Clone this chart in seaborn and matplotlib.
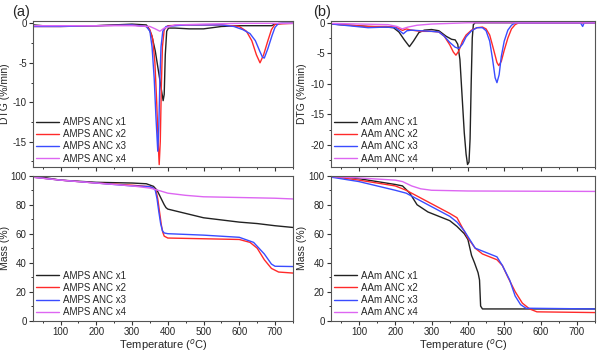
import pandas as pd
import matplotlib
matplotlib.use("Agg")
import matplotlib.pyplot as plt
from matplotlib.ticker import MultipleLocator
import seaborn as sns

# ---- (a) AMPS ANC, DTG (%/min) ----
a_dtg_t1 = [25, 50, 100, 150, 200, 250, 300, 340, 345, 355, 365, 372, 380, 387, 390, 393, 397, 402, 420, 460, 500, 550, 600, 650, 690, 700, 720, 750]
a_dtg_v1 = [-0.2, -0.3, -0.3, -0.3, -0.3, -0.2, -0.1, -0.2, -0.5, -1.5, -3.5, -5.5, -7.8, -9.8, -9.0, -4.0, -1.0, -0.6, -0.6, -0.7, -0.7, -0.4, -0.3, -0.3, -0.3, -0.1, 0.0, 0.0]
a_dtg_t2 = [25, 100, 200, 300, 340, 350, 358, 364, 369, 373, 376, 379, 382, 385, 390, 400, 450, 550, 600, 620, 635, 648, 658, 668, 680, 690, 700, 750]
a_dtg_v2 = [-0.4, -0.4, -0.3, -0.2, -0.4, -0.8, -2.0, -5.0, -10.0, -15.0, -17.9, -15.0, -8.0, -3.0, -0.8, -0.3, -0.2, -0.2, -0.4, -1.0, -2.2, -4.0, -5.0, -4.0, -2.2, -0.8, -0.1, 0.0]
a_dtg_t3 = [25, 100, 200, 300, 340, 350, 356, 362, 367, 372, 375, 378, 381, 386, 395, 450, 550, 585, 610, 630, 645, 657, 665, 670, 680, 692, 700, 710, 750]
a_dtg_v3 = [-0.4, -0.4, -0.3, -0.2, -0.4, -1.0, -3.0, -7.0, -12.0, -16.2, -13.0, -7.0, -3.0, -1.0, -0.4, -0.2, -0.2, -0.4, -0.8, -1.3, -2.2, -3.5, -4.3, -4.4, -3.2, -1.5, -0.5, 0.0, 0.0]
a_dtg_t4 = [25, 100, 200, 300, 350, 365, 378, 390, 420, 500, 600, 750]
a_dtg_v4 = [-0.3, -0.3, -0.3, -0.3, -0.4, -0.7, -1.0, -0.6, -0.2, -0.1, 0.0, 0.0]

# ---- (b) AAm ANC, DTG (%/min) ----
b_dtg_t1 = [25, 75, 125, 175, 195, 210, 225, 239, 250, 265, 280, 300, 320, 340, 355, 365, 372, 378, 384, 390, 395, 399, 403, 406, 409, 412, 415, 420, 500, 750]
b_dtg_v1 = [-0.2, -0.4, -0.6, -0.7, -0.8, -1.5, -2.8, -3.9, -3.0, -1.6, -1.2, -1.1, -1.3, -2.2, -2.7, -2.8, -3.5, -6.0, -12.0, -18.0, -21.5, -23.2, -22.8, -19.0, -10.0, -2.5, -0.3, 0.0, 0.0, 0.0]
b_dtg_t2 = [25, 75, 125, 175, 200, 212, 220, 230, 245, 270, 300, 320, 335, 350, 360, 367, 375, 385, 395, 410, 425, 440, 450, 460, 470, 480, 485, 492, 500, 510, 520, 530, 540, 750]
b_dtg_v2 = [-0.2, -0.4, -0.6, -0.6, -0.7, -1.0, -1.25, -1.0, -1.2, -1.4, -1.4, -1.5, -2.2, -3.6, -4.8, -5.3, -4.6, -3.0, -2.0, -1.2, -0.8, -0.7, -1.0, -2.0, -4.2, -6.5, -7.0, -6.3, -4.5, -2.5, -1.0, -0.3, 0.0, 0.0]
b_dtg_t3 = [25, 75, 125, 175, 200, 212, 222, 232, 245, 270, 300, 320, 335, 350, 365, 375, 385, 395, 410, 425, 440, 450, 460, 468, 475, 480, 486, 492, 500, 510, 520, 530, 710, 716, 720, 750]
b_dtg_v3 = [-0.2, -0.5, -0.8, -0.7, -0.8, -1.3, -1.8, -1.3, -1.2, -1.3, -1.4, -1.5, -2.2, -3.2, -4.0, -4.2, -3.5, -2.3, -1.3, -0.8, -0.8, -1.3, -3.0, -6.0, -9.0, -9.8, -8.5, -5.5, -3.0, -1.2, -0.4, 0.0, 0.0, -0.6, 0.0, 0.0]
b_dtg_t4 = [25, 100, 180, 205, 219, 235, 260, 300, 350, 400, 750]
b_dtg_v4 = [-0.1, -0.2, -0.3, -0.6, -1.0, -0.7, -0.4, -0.2, -0.1, 0.0, 0.0]

# ---- (a) AMPS ANC, Mass (%) ----
a_m_t1 = [25, 100, 200, 300, 340, 360, 370, 380, 390, 395, 400, 450, 500, 550, 600, 650, 700, 750]
a_m_v1 = [100, 97, 95.5, 95, 94.5, 92.7, 90, 85, 80, 78, 77, 74, 71, 69.5, 68, 67, 65.5, 64.3]
a_m_t2 = [25, 100, 200, 300, 350, 360, 367, 372, 377, 382, 386, 390, 400, 500, 600, 630, 650, 670, 690, 710, 750]
a_m_v2 = [99, 97, 95, 93.5, 92.5, 91.5, 90, 84, 75, 66, 61, 58.3, 57, 56.5, 56, 54, 50, 42, 36, 33.5, 32.8]
a_m_t3 = [25, 100, 200, 300, 350, 360, 365, 370, 375, 380, 385, 390, 400, 500, 600, 640, 655, 670, 690, 700, 750]
a_m_v3 = [99, 97, 95, 93, 92.5, 91.5, 90, 84, 75, 67, 62, 60.5, 60, 59, 57.5, 54, 50, 46, 39, 37.5, 37.3]
a_m_t4 = [25, 100, 200, 300, 350, 380, 400, 450, 500, 600, 700, 750]
a_m_v4 = [99, 97, 95, 93, 91.5, 89.5, 88, 86.5, 85.5, 85, 84.5, 84]

# ---- (b) AAm ANC, Mass (%) ----
b_m_t1 = [25, 100, 150, 200, 220, 240, 260, 290, 320, 350, 370, 390, 400, 410, 418, 428, 432, 435, 440, 500, 750]
b_m_v1 = [100, 98, 96, 94, 93, 88, 80, 75, 72, 69, 65, 60, 56, 45, 40, 33, 28, 10, 8, 8, 8]
b_m_t2 = [25, 100, 200, 230, 260, 290, 320, 350, 370, 385, 400, 420, 440, 460, 480, 495, 510, 530, 550, 570, 590, 750]
b_m_v2 = [99.5, 97, 93, 90, 86, 82, 78, 74, 71, 64, 57, 50, 46, 44, 42, 38, 30, 20, 12, 8, 6, 5.5]
b_m_t3 = [25, 100, 200, 230, 260, 290, 320, 350, 370, 390, 405, 420, 440, 460, 480, 495, 515, 530, 545, 560, 750]
b_m_v3 = [99, 96, 90, 88, 84, 80, 76, 72, 68, 62, 56, 50, 48, 46, 44, 38, 28, 17, 11, 8.5, 8]
b_m_t4 = [25, 100, 200, 220, 245, 270, 300, 400, 750]
b_m_v4 = [99.5, 98.5, 97, 96, 93, 91, 90, 89.5, 89.2]

labels_a = ["AMPS ANC x1", "AMPS ANC x2", "AMPS ANC x3", "AMPS ANC x4"]
labels_b = ["AAm ANC x1", "AAm ANC x2", "AAm ANC x3", "AAm ANC x4"]
colores = ["#222222", "#ff2a2a", "#3a4cff", "#dd66f2"]


def armar_df(ts, vs, labels):
    partes = []
    for t, v, lab in zip(ts, vs, labels):
        partes.append(pd.DataFrame({"T": t, "v": v, "serie": lab}))
    return pd.concat(partes, ignore_index=True)


df_a_dtg = armar_df([a_dtg_t1, a_dtg_t2, a_dtg_t3, a_dtg_t4], [a_dtg_v1, a_dtg_v2, a_dtg_v3, a_dtg_v4], labels_a)
df_b_dtg = armar_df([b_dtg_t1, b_dtg_t2, b_dtg_t3, b_dtg_t4], [b_dtg_v1, b_dtg_v2, b_dtg_v3, b_dtg_v4], labels_b)
df_a_m = armar_df([a_m_t1, a_m_t2, a_m_t3, a_m_t4], [a_m_v1, a_m_v2, a_m_v3, a_m_v4], labels_a)
df_b_m = armar_df([b_m_t1, b_m_t2, b_m_t3, b_m_t4], [b_m_v1, b_m_v2, b_m_v3, b_m_v4], labels_b)

sns.set_style("ticks")
plt.rcParams["font.family"] = ["Liberation Sans", "DejaVu Sans"]
plt.rcParams["axes.unicode_minus"] = False

fig = plt.figure(figsize=(5.98, 3.53), dpi=100)
ax_a1 = fig.add_axes([0.0552, 0.527, 0.4346, 0.4136])
ax_a2 = fig.add_axes([0.0552, 0.092, 0.4346, 0.41])
ax_b1 = fig.add_axes([0.5535, 0.527, 0.4415, 0.4136])
ax_b2 = fig.add_axes([0.5535, 0.092, 0.4415, 0.41])

paneles = [
    (ax_a1, df_a_dtg, labels_a, (-18.2, 0.3), 5, "DTG (%/min)", -0.09),
    (ax_a2, df_a_m, labels_a, (0, 100), 20, "Mass (%)", -0.09),
    (ax_b1, df_b_dtg, labels_b, (-23.6, 0.3), 5, "DTG (%/min)", -0.092),
    (ax_b2, df_b_m, labels_b, (0, 100), 20, "Mass (%)", -0.092),
]

for ax, d, labs, ylim, paso, ylab, xlab_pos in paneles:
    sns.lineplot(data=d, x="T", y="v", hue="serie", hue_order=labs,
                 palette=colores, estimator=None, linewidth=1.0, ax=ax)
    ax.set_xlim(23, 750)
    ax.set_ylim(*ylim)
    ax.xaxis.set_major_locator(MultipleLocator(100))
    ax.xaxis.set_minor_locator(MultipleLocator(50))
    ax.yaxis.set_major_locator(MultipleLocator(paso))
    ax.yaxis.set_minor_locator(MultipleLocator(paso / 2))
    ax.tick_params(which="both", direction="out", labelsize=7, pad=1.5,
                   color="#333333")
    ax.tick_params(which="major", length=3, width=0.8)
    ax.tick_params(which="minor", length=1.5, width=0.7)
    for s in ax.spines.values():
        s.set_color("#555555")
        s.set_linewidth(0.8)
    ax.set_ylabel(ylab, fontsize=7.5)
    ax.yaxis.set_label_coords(xlab_pos, 0.5)
    ax.set_xlabel("")
    ax.legend(frameon=False, loc="lower left", fontsize=7, handlelength=2.3,
              labelspacing=0.22, borderaxespad=0.25, borderpad=0.1,
              handletextpad=0.4)

for ax in (ax_a1, ax_b1):
    ax.set_xticklabels([])
for ax in (ax_a2, ax_b2):
    ax.set_xlabel("Temperature ($^{o}$C)", fontsize=8, labelpad=0)

fig.text(0.02, 0.955, "(a)", fontsize=10.5)
fig.text(0.523, 0.955, "(b)", fontsize=10.5)

fig.savefig("out.png", dpi=100)
